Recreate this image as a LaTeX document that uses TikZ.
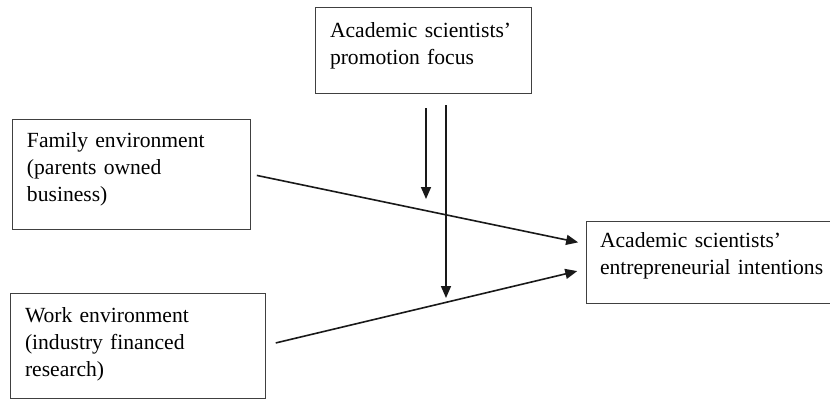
\documentclass[tikz,border=0pt]{standalone}
\usepackage{fontspec}
\setmainfont{Liberation Serif}
\usepackage{tikz}
\usetikzlibrary{arrows.meta}

\begin{document}
\begin{tikzpicture}[
  x=1pt, y=-1pt,
  font=\fontsize{21.6}{27}\selectfont,
  >={Triangle[length=12pt, width=10pt]},
  box/.style={draw=black!75, line width=1pt, anchor=north west, align=left,
              inner xsep=15pt, inner ysep=0pt, outer sep=0pt},
  arr/.style={->, line width=1.6pt, draw=black!90},
]
\useasboundingbox (0,0) rectangle (830,399);
\node[box, text width=186pt, text height=30pt, text depth=56pt] (prom) at (315,7)
  {Academic scientists'\\ promotion focus};
\node[box, text width=208pt, text height=28pt, text depth=82pt] (fam) at (12,119)
  {Family environment\\ (parents owned\\ business)};
\node[box, text width=225pt, text height=29pt, text depth=76pt] (work) at (10,293)
  {Work environment\\ (industry financed\\ research)};
\node[box, inner xsep=14pt, text width=232pt, text height=26pt, text depth=56pt] (intent) at (586,221)
  {Academic scientists'\\ entrepreneurial intentions};
% main effects
\draw[arr, shorten <=7pt, shorten >=8pt] (fam.east) -- ([yshift=18pt]intent.west);
\draw[arr, shorten <=11pt, shorten >=9pt] (work.east) -- ([yshift=-7pt]intent.west);
% moderation
\coordinate (m1) at (426,199);
\coordinate (m2) at (446,298);
\draw[arr, shorten <=15pt] (m1 |- prom.south) -- (m1);
\draw[arr, shorten <=12pt] (m2 |- prom.south) -- (m2);
\end{tikzpicture}
\end{document}
